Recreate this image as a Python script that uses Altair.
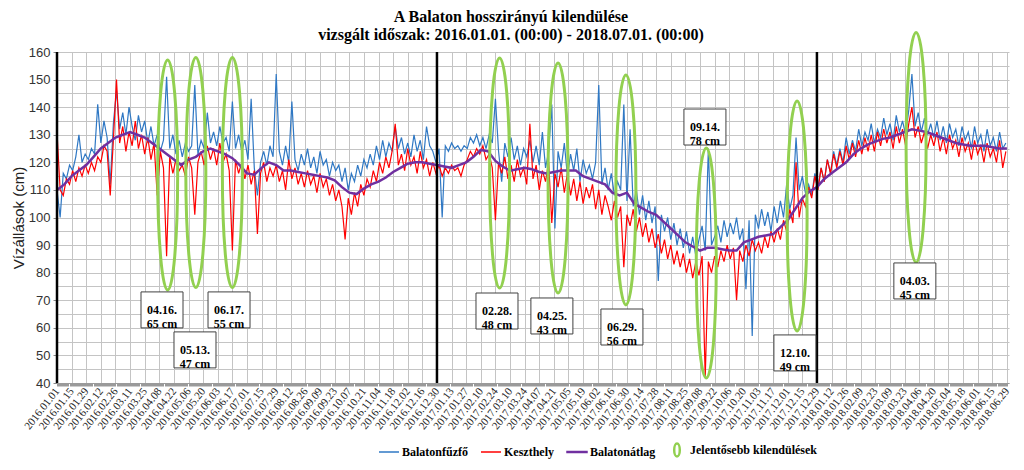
import altair as alt
import pandas as pd

START = "2016-01-01"
RAW_STEP = 3   # days between the plotted raw readings
AVG_STEP = 7   # days between the plotted average readings

# Balatonfűzfő water level (cm), one reading every RAW_STEP days from START
blue_vals = [
    110, 100, 116, 114, 119, 117, 122, 130, 120, 123,
    121, 125, 123, 141, 127, 135, 129, 112, 134, 146,
    132, 138, 130, 140, 133, 128, 137, 131, 135, 127,
    133, 126, 130, 124, 128, 151, 125, 130, 123, 128,
    122, 127, 124, 126, 148, 123, 128, 125, 138, 127,
    131, 126, 133, 127, 129, 124, 142, 125, 130, 124,
    128, 121, 143, 118, 108, 120, 124, 119, 126, 122,
    152, 124, 119, 126, 120, 142, 121, 117, 123, 119,
    125, 118, 122, 116, 124, 119, 121, 115, 120, 117,
    119, 113, 118, 110, 116, 113, 119, 115, 121, 118,
    123, 119, 126, 121, 128, 122, 127, 124, 133, 125,
    129, 123, 127, 122, 130, 124, 128, 121, 133, 126,
    124, 120, 125, 100, 126, 124, 127, 125, 126, 124,
    126, 125, 129, 127, 130, 126, 129, 125, 130, 127,
    143, 124, 113, 127, 122, 129, 121, 126, 119, 125,
    122, 128, 120, 126, 119, 131, 118, 124, 141, 96,
    124, 118, 127, 115, 123, 117, 125, 113, 121, 116,
    119, 114, 120, 148, 112, 118, 110, 116, 108, 113,
    110, 141, 106, 132, 104, 110, 101, 108, 99, 106,
    98, 104, 77, 101, 95, 100, 92, 98, 90, 96,
    89, 95, 87, 93, 86, 92, 97, 88, 125, 90,
    93, 97, 91, 99, 93, 98, 94, 100, 92, 96,
    74, 99, 57, 101, 96, 103, 97, 102, 95, 104,
    98, 106, 100, 112, 103, 108, 129, 110, 115, 109,
    112, 108, 116, 111, 118, 113, 121, 116, 124, 119,
    125, 120, 129, 123, 128, 124, 132, 126, 131, 128,
    134, 127, 132, 129, 136, 130, 134, 128, 137, 131,
    135, 130, 139, 152, 133, 138, 131, 136, 130, 134,
    129, 135, 128, 133, 127, 134, 129, 132, 126, 133,
    128, 131, 125, 133, 127, 130, 124, 132, 126, 129,
    124, 131, 125, 127,
]

# Keszthely water level (cm), one reading every RAW_STEP days from START
red_vals = [
    131, 110, 108, 114, 112, 117, 113, 118, 115, 119,
    116, 120, 117, 122, 120, 126, 124, 108, 128, 150,
    127, 133, 124, 131, 126, 135, 125, 130, 123, 129,
    121, 127, 108, 124, 118, 86, 122, 116, 121, 117,
    119, 115, 122, 118, 101, 120, 124, 119, 126, 121,
    125, 119, 127, 120, 123, 117, 88, 121, 116, 120,
    114, 119, 112, 117, 94, 116, 120, 113, 118, 115,
    119, 113, 117, 110, 121, 114, 118, 112, 116, 111,
    117, 112, 115, 109, 116, 111, 114, 108, 112, 106,
    110, 104, 92, 107, 101, 109, 104, 112, 108, 114,
    111, 117, 113, 120, 116, 122, 118, 124, 134, 119,
    123, 117, 125, 119, 122, 116, 124, 118, 121, 115,
    120, 116, 119, 115, 118, 116, 119, 117, 118, 115,
    119, 121, 124, 122, 125, 123, 126, 121, 123, 118,
    99, 120, 116, 122, 114, 119, 113, 121, 115, 118,
    112, 134, 114, 119, 110, 117, 113, 120, 98, 116,
    111, 118, 109, 116, 108, 114, 106, 113, 105, 111,
    107, 112, 103, 110, 101, 108, 104, 99, 106, 100,
    104, 82, 101, 97, 103, 95, 100, 93, 98, 91,
    96, 89, 94, 87, 92, 85, 90, 83, 88, 82,
    87, 80, 85, 78, 84, 79, 86, 42, 84, 80,
    86, 82, 88, 84, 90, 85, 89, 70, 88, 84,
    90, 86, 92, 88, 91, 87, 93, 89, 95, 91,
    96, 92, 99, 95, 103, 98, 120, 100, 107, 104,
    111, 107, 115, 110, 118, 113, 121, 116, 123, 118,
    124, 119, 126, 121, 127, 122, 128, 123, 129, 124,
    130, 124, 131, 126, 132, 127, 131, 125, 133, 127,
    132, 126, 134, 140, 129, 133, 127, 131, 125, 130,
    126, 131, 124, 129, 123, 130, 125, 128, 122, 129,
    124, 127, 121, 128, 123, 126, 120, 127, 122, 125,
    120, 128, 118, 124,
]

# Balatonátlag (lake average, cm), one value every AVG_STEP days from START
avg_vals = [
    110, 112, 115, 117, 119, 122, 125, 127, 129, 130,
    131, 130, 129, 127, 125, 123, 121, 119, 121, 122,
    124, 125, 124, 123, 121.5, 119, 116, 115.5, 118, 120,
    119, 117, 117, 116.5, 116, 115.5, 115, 114.5, 113.5, 111,
    109, 108.5, 110.5, 112, 113, 114.5, 116.5, 118, 119.5, 120,
    120, 119.5, 119,
    118.5, 118, 119, 120, 122, 124.5, 124, 120.5, 118.5, 117,
    117.5, 118, 117.5, 116.5, 116, 116.5, 117, 117, 117, 115,
    114, 113, 112, 109, 108, 109, 105, 103.5, 102, 101,
    98.5, 96, 93.5, 91, 89.5, 88, 89, 89, 88.5, 88,
    88, 91, 92, 93, 93.5, 94, 96.5, 99, 103, 107,
    109.5, 111, 114, 116, 118, 120, 123, 125, 126.5, 127.5,
    128.5, 129, 130, 131, 132, 131.5, 131, 130, 129, 128,
    127, 126.5, 126, 126, 126, 125.5, 125, 125,
]

series_names = ["Balatonfűzfő", "Keszthely", "Balatonátlag", "Jelentősebb kilendülések"]
series_colors = ["#2F78C4", "#FF0000", "#7030A0", "#92D050"]

year_lines = ["2016-01-01", "2016-12-30", "2017-12-29"]

event_dates = ["2016-04-16", "2016-05-13", "2016-06-17", "2017-02-28", "2017-04-25",
               "2017-06-29", "2017-09-14", "2017-12-10", "2018-04-03"]
event_swing_cm = [65, 47, 55, 48, 43, 56, 78, 49, 45]
ellipse_mid = [115.4, 116.3, 116.3, 116.1, 114.3, 110.0, 83.5, 100.5, 125.4]
label_shift_days = [-5.4, -0.8, -3.2, -2.5, -5.9, -3.8, -1.3, -2.1, -1.2]
label_level = [66.5, 52.0, 66.5, 66.1, 64.3, 60.3, 132.8, 50.9, 77.0]

start = pd.Timestamp(START)


def day_of(d):
    return (pd.Timestamp(d) - start).days


blue_df = pd.DataFrame({"day": [RAW_STEP * i for i in range(len(blue_vals))],
                        "v": blue_vals, "series": series_names[0]})
red_df = pd.DataFrame({"day": [RAW_STEP * i for i in range(len(red_vals))],
                       "v": red_vals, "series": series_names[1]})
avg_df = pd.DataFrame({"day": [AVG_STEP * i for i in range(len(avg_vals))],
                       "v": avg_vals, "series": series_names[2]})
year_df = pd.DataFrame({"day": [day_of(d) for d in year_lines]})
legend_df = pd.DataFrame({"series": series_names, "day": 0, "v": 100})

ev_days = [day_of(d) for d in event_dates]
ann_df = pd.DataFrame({
    "day": ev_days,
    "mid": ellipse_mid,
    "lday": [d + s for d, s in zip(ev_days, label_shift_days)],
    "lv": label_level,
    "txt": [pd.Timestamp(d).strftime("%m.%d.") + "\n" + f"{a} cm"
            for d, a in zip(event_dates, event_swing_cm)],
})

ELLIPSE = "M0,-1A0.087,1 0 1,1 0,1A0.087,1 0 1,1 0,-1Z"
LEG_THIN = "M-1,0H1"
LEG_THICK = "M-1,-0.05H1V0.05H-1Z"
LEG_ELLIPSE = ("M0,-0.7A0.33,0.7 0 1,1 0,0.7A0.33,0.7 0 1,1 0,-0.7Z"
               "M0,-0.6A0.23,0.6 0 1,1 0,0.6A0.23,0.6 0 1,1 0,-0.6Z")
BOX = "M-1,-0.857H1V0.857H-1Z"

x_scale = alt.Scale(domain=[0, 912], nice=False, zero=False)
y_scale = alt.Scale(domain=[40, 160], nice=False, zero=False)

x_axis = alt.Axis(
    values=list(range(0, 911)), tickCount=2000,
    labelExpr="datum.value % 14 === 0 ? utcFormat(utc(2016, 0, 1 + datum.value), '%Y.%m.%d') : ''",
    labelAngle=-52, labelAlign="right", labelBaseline="middle",
    labelFont="Liberation Serif", labelFontSize=11, labelColor="#222222",
    labelOverlap=False, labelPadding=3,
    tickSize=3, tickColor="#9a9a9a",
    grid=True,
    gridColor={"condition": {"test": "datum.value % 14 === 0", "value": "#c4c4c4"}, "value": "transparent"},
    domainColor="#9a9a9a", title=None,
)
y_axis = alt.Axis(
    values=list(range(40, 161, 5)), tickCount=200,
    labelExpr="datum.value % 10 === 0 ? datum.value : ''",
    labelFont="Liberation Sans", labelFontSize=13, labelColor="#333333", labelPadding=3,
    labelOverlap=False,
    tickSize=4, tickColor={"condition": {"test": "datum.value % 10 === 0", "value": "#888888"}, "value": "transparent"},
    grid=True, gridColor="#c4c4c4", domain=False,
    title="Vízállások (cm)", titleFont="Liberation Sans", titleFontSize=15,
    titleFontWeight="normal", titleColor="#222222", titlePadding=2,
)

color_scale = alt.Scale(domain=series_names, range=series_colors)
shape_scale = alt.Scale(domain=series_names, range=[LEG_THIN, LEG_THIN, LEG_THICK, LEG_ELLIPSE])

legend = alt.Legend(
    orient="none", legendX=321, legendY=387, direction="horizontal", title=None,
    labelFont="Liberation Serif", labelFontWeight="bold", labelFontSize=12, labelColor="black",
    symbolSize=400, symbolStrokeWidth=1.5, columnPadding=10, labelOffset=2,
)

blue = alt.Chart(blue_df).mark_line(strokeWidth=1.2).encode(
    x=alt.X("day:Q", scale=x_scale, axis=x_axis),
    y=alt.Y("v:Q", scale=y_scale, axis=y_axis),
    color=alt.Color("series:N", scale=color_scale, legend=legend),
)
red = alt.Chart(red_df).mark_line(strokeWidth=1.2).encode(
    x="day:Q", y="v:Q",
    color=alt.Color("series:N", scale=color_scale, legend=legend),
)
avg = alt.Chart(avg_df).mark_line(strokeWidth=2.5).encode(
    x="day:Q", y="v:Q",
    color=alt.Color("series:N", scale=color_scale, legend=legend),
)
# legend source: no visible marks (all rows filtered), scales carry the full domain
legend_src = alt.Chart(legend_df).transform_filter("false").mark_point(
    filled=False, strokeWidth=1.5, opacity=1
).encode(
    x="day:Q", y="v:Q",
    color=alt.Color("series:N", scale=color_scale, legend=legend),
    shape=alt.Shape("series:N", scale=shape_scale, legend=legend),
)
years = alt.Chart(year_df).mark_rule(color="black", strokeWidth=2.5).encode(x="day:Q")
ellipses = alt.Chart(ann_df).mark_point(
    shape=ELLIPSE, size=52900, filled=False, stroke="#92D050", strokeWidth=3, opacity=1
).encode(x="day:Q", y="mid:Q")
boxes = alt.Chart(ann_df).mark_point(
    shape=BOX, size=1764, filled=True, fill="white", stroke="#404040", strokeWidth=1,
    opacity=1, fillOpacity=1
).encode(x="lday:Q", y="lv:Q")
texts = alt.Chart(ann_df).mark_text(
    font="Liberation Serif", fontWeight="bold", fontSize=12, lineBreak="\n", lineHeight=14,
    align="center", baseline="middle", color="black"
).encode(x="lday:Q", y="lv:Q", text="txt:N")

chart = alt.layer(legend_src, blue, red, avg, ellipses, years, boxes, texts).properties(
    width=952, height=331,
    autosize=alt.AutoSizeParams(type="none"),
    padding={"left": 49, "top": 44, "right": 5, "bottom": 79},
    title=alt.TitleParams(
        ["A Balaton hosszirányú  kilendülése",
         "vizsgált időszak:  2016.01.01. (00:00) - 2018.07.01. (00:00)"],
        font="Liberation Serif", fontSize=16, fontWeight="bold", color="black",
        anchor="middle", frame="group", dx=-22, offset=-17, lineHeight=18,
    ),
).configure_view(stroke=None)

chart.save("out.html", embed_options={"renderer": "svg", "actions": False})
